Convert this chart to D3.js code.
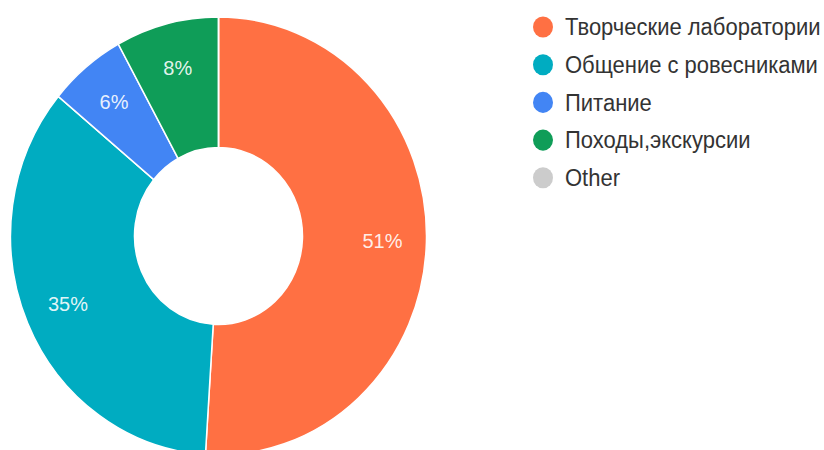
<!DOCTYPE html>
<html><head><meta charset="utf-8">
<script src="https://cdn.jsdelivr.net/npm/d3@7"></script>
<style>html,body{margin:0;padding:0;background:#fff;}svg{display:block;}</style>
</head><body>
<svg id="c" width="824" height="450"></svg>
<script>
const categories = ["Творческие лаборатории", "Общение с ровесниками", "Питание", "Походы,экскурсии", "Other"];
const values = [51, 35, 6, 8, 0];
const labels = ["51%", "35%", "6%", "8%", ""];
const colors = ["#FF7043", "#00ACC1", "#4285F4", "#0F9D58", "#CCCCCC"];

const svg = d3.select("#c");
const cx = 218.5, cy = 236, rOuter = 208, rInner = 84, sy = 1.053, rLabel = 164;

const pie = d3.pie().sort(null).value(d => d)(values);
const arc = d3.arc().innerRadius(rInner).outerRadius(rOuter);
const labelArc = d3.arc().innerRadius(rLabel).outerRadius(rLabel);

const g = svg.append("g").attr("transform", `translate(${cx},${cy}) scale(1,${sy})`);
g.selectAll("path").data(pie).join("path")
  .attr("d", arc)
  .attr("fill", (d, i) => colors[i])
  .attr("stroke", "#fff")
  .attr("stroke-width", 1.5);

g.selectAll("text").data(pie).join("text")
  .attr("transform", d => { const c = labelArc.centroid(d); return `translate(${c[0]},${c[1]})`; })
  .attr("text-anchor", "middle")
  .attr("dy", "0.3em")
  .attr("fill", "#fff")
  .attr("fill-opacity", 0.9)
  .style("font-family", "'Liberation Sans', Arial, sans-serif")
  .style("font-size", "20px")
  .text((d, i) => labels[i]);

const lg = svg.append("g");
const items = lg.selectAll("g").data(categories).join("g")
  .attr("transform", (d, i) => `translate(543,${27 + i * 37.7}) scale(1,${sy})`);
items.append("circle").attr("r", 10).attr("fill", (d, i) => colors[i]);
items.append("text").attr("x", 22).attr("dy", "0.36em")
  .attr("fill", "#333")
  .style("font-family", "'Liberation Sans', Arial, sans-serif")
  .style("font-size", "22px")
  .text(d => d);
</script>
</body></html>
